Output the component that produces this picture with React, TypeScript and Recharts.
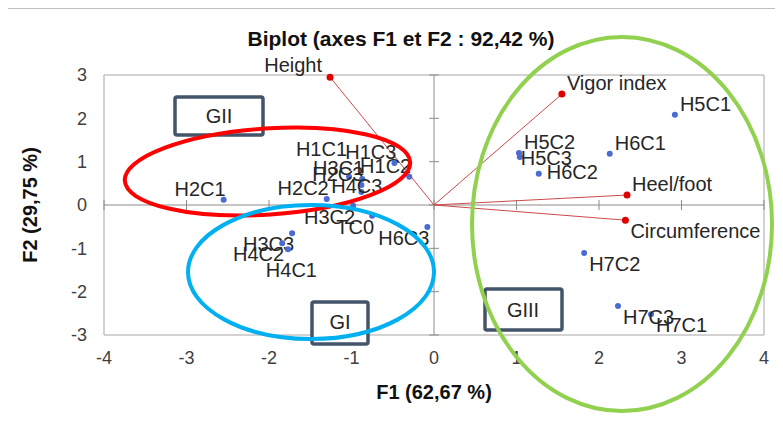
import { ReferenceArea, ReferenceLine, Scatter, ScatterChart, XAxis, YAxis } from 'recharts';

const xTicks = [-4, -3, -2, -1, 0, 1, 2, 3, 4];
const yTicks = [-3, -2, -1, 0, 1, 2, 3];

// observations (F1, F2)
const obsNames = [
  'H1C1', 'H1C2', 'H1C3', 'H2C1', 'H2C2', 'H2C3', 'H3C1', 'H3C2', 'H3C3', 'H4C1', 'H4C2',
  'H4C3', 'H5C1', 'H5C2', 'H5C3', 'H6C1', 'H6C2', 'H6C3', 'H7C1', 'H7C2', 'H7C3', 'TC0',
];
const obsF1 = [
  -1.03, -0.3, -0.48, -2.55, -1.3, -0.88, -0.87, -0.98, -1.72, -1.77, -1.84,
  -0.88, 2.92, 1.03, 1.04, 2.13, 1.27, -0.08, 2.63, 1.82, 2.23, -0.75,
];
const obsF2 = [
  0.65, 0.65, 0.97, 0.12, 0.14, 0.46, 0.6, -0.02, -0.65, -1.02, -0.88,
  0.3, 2.08, 1.2, 1.11, 1.18, 0.72, -0.51, -2.52, -1.11, -2.33, -0.25,
];

// variables
const varNames = ['Height', 'Vigor index', 'Heel/foot', 'Circumference'];
const varF1 = [-1.26, 1.55, 2.34, 2.32];
const varF2 = [2.95, 2.56, 0.23, -0.35];

const observations = obsNames.map((name, i) => ({ name, x: obsF1[i], y: obsF2[i] }));
const variables = varNames.map((name, i) => ({ name, x: varF1[i], y: varF2[i] }));

// label nudges where labels were moved to avoid overlaps
const labelNudge: Record<string, [number, number]> = {
  H5C3: [1, 1],
  H6C2: [8, -2],
  H1C1: [-2, -28],
  H4C3: [21, -6],
  H4C1: [29, 21],
  Height: [-8, -12],
};

const FONT = '"Liberation Sans", Arial, sans-serif';
const TXT = '#262626';

function labelPos(name: string, x: number, y: number) {
  const anchor = x >= 0 ? 'start' : 'end';
  const n = labelNudge[name];
  if (n) return { anchor, dx: n[0], dy: n[1] };
  return { anchor, dx: x >= 0 ? 5 : 2, dy: y >= 0 ? -11 : 11 };
}

function PointShape(props: any, color: string, r: number) {
  const { cx, cy, payload } = props;
  const lp = labelPos(payload.name, payload.x, payload.y);
  return (
    <g>
      <circle cx={cx} cy={cy} r={r} fill={color} />
      <text
        x={cx + lp.dx}
        y={cy + lp.dy}
        textAnchor={lp.anchor}
        dominantBaseline="central"
        fontSize={20}
        fontFamily={FONT}
        fill={TXT}
      >
        {payload.name}
      </text>
    </g>
  );
}

const W = 775;
const H = 418;

export default function App() {
  return (
    <div style={{ position: 'relative', width: W, height: H, overflow: 'hidden' }}>
      <div
        style={{
          position: 'absolute',
          left: -1,
          top: 0,
          width: W + 10,
          height: H + 10,
          borderLeft: '1px solid #bfbfbf',
          borderTop: '1px solid #bfbfbf',
        }}
      />
      <ScatterChart
        width={W}
        height={H}
        margin={{ top: 67, right: 19, bottom: 51, left: 0 }}
        style={{ fontFamily: FONT }}
      >
        <XAxis
          type="number"
          dataKey="x"
          domain={[-4, 4]}
          ticks={xTicks}
          axisLine={false}
          tickLine={false}
          tickSize={0}
          tickMargin={16}
          height={40}
          tick={{ fontSize: 18, fill: '#404040', fontFamily: FONT }}
        />
        <YAxis
          type="number"
          dataKey="y"
          domain={[-3, 3]}
          ticks={yTicks}
          axisLine={false}
          tickLine={false}
          tickSize={0}
          tickMargin={17}
          width={96}
          tick={{ fontSize: 18, fill: '#404040', fontFamily: FONT }}
        />
        <ReferenceArea x1={-4} x2={4} y1={-3} y2={3} fill="none" stroke="#a6a6a6" strokeWidth={1} ifOverflow="visible" />
        <ReferenceLine x={0} stroke="#8c8c8c" />
        <ReferenceLine y={0} stroke="#8c8c8c" />
        {xTicks.map((t) => (
          <ReferenceLine
            key={'xt' + t}
            segment={[{ x: t, y: -0.115 }, { x: t, y: 0.115 }]}
            stroke="#8c8c8c"
            ifOverflow="visible"
          />
        ))}
        {yTicks.map((t) => (
          <ReferenceLine
            key={'yt' + t}
            segment={[{ x: -0.06, y: t }, { x: 0.06, y: t }]}
            stroke="#8c8c8c"
            ifOverflow="visible"
          />
        ))}
        {variables.map((v) => (
          <ReferenceLine
            key={'v' + v.name}
            segment={[{ x: 0, y: 0 }, { x: v.x, y: v.y }]}
            stroke="#cc4a4a"
            strokeWidth={1}
            ifOverflow="visible"
          />
        ))}
        <Scatter
          data={observations}
          isAnimationActive={false}
          shape={(p: any) => PointShape(p, '#4a6bd4', 3)}
        />
        <Scatter
          data={variables}
          isAnimationActive={false}
          shape={(p: any) => PointShape(p, '#e00000', 3.5)}
        />
      </ScatterChart>
      <svg
        width={W}
        height={H}
        style={{ position: 'absolute', left: 0, top: 0, pointerEvents: 'none' }}
        fontFamily={FONT}
      >
        <text x={393} y={30} textAnchor="middle" dominantBaseline="central" fontSize={21} fontWeight="bold" fill="#111">
          Biplot (axes F1 et F2 : 92,42 %)
        </text>
        <text x={426} y={384} textAnchor="middle" dominantBaseline="central" fontSize={20} fontWeight="bold" fill="#111">
          F1 (62,67 %)
        </text>
        <text
          x={22}
          y={197}
          textAnchor="middle"
          dominantBaseline="central"
          fontSize={20}
          fontWeight="bold"
          fill="#111"
          transform="rotate(-90 22 197)"
        >
          F2 (29,75 %)
        </text>
        {/* group boxes */}
        <rect x={167} y={89} width={88} height={38} rx={2} fill="#fff" stroke="#44546a" strokeWidth={3.5} />
        <text x={211} y={108} textAnchor="middle" dominantBaseline="central" fontSize={20} fill={TXT}>GII</text>
        <rect x={304} y={294} width={56} height={42} rx={2} fill="#fff" stroke="#44546a" strokeWidth={3.5} />
        <text x={332} y={314} textAnchor="middle" dominantBaseline="central" fontSize={20} fill={TXT}>GI</text>
        <rect x={477} y={281} width={77} height={41} rx={2} fill="#fff" stroke="#44546a" strokeWidth={3.5} />
        <text x={515} y={302} textAnchor="middle" dominantBaseline="central" fontSize={20} fill={TXT}>GIII</text>
        {/* group ellipses */}
        <ellipse cx={259.5} cy={163.5} rx={143} ry={43} fill="none" stroke="#ff0000" strokeWidth={4} transform="rotate(-3.8 259.5 163.5)" />
        <ellipse cx={303} cy={264} rx={123} ry={67} fill="none" stroke="#00b0f0" strokeWidth={4} />
        <ellipse cx={614} cy={216} rx={150} ry={187} fill="none" stroke="#92d050" strokeWidth={4} />
      </svg>
    </div>
  );
}
